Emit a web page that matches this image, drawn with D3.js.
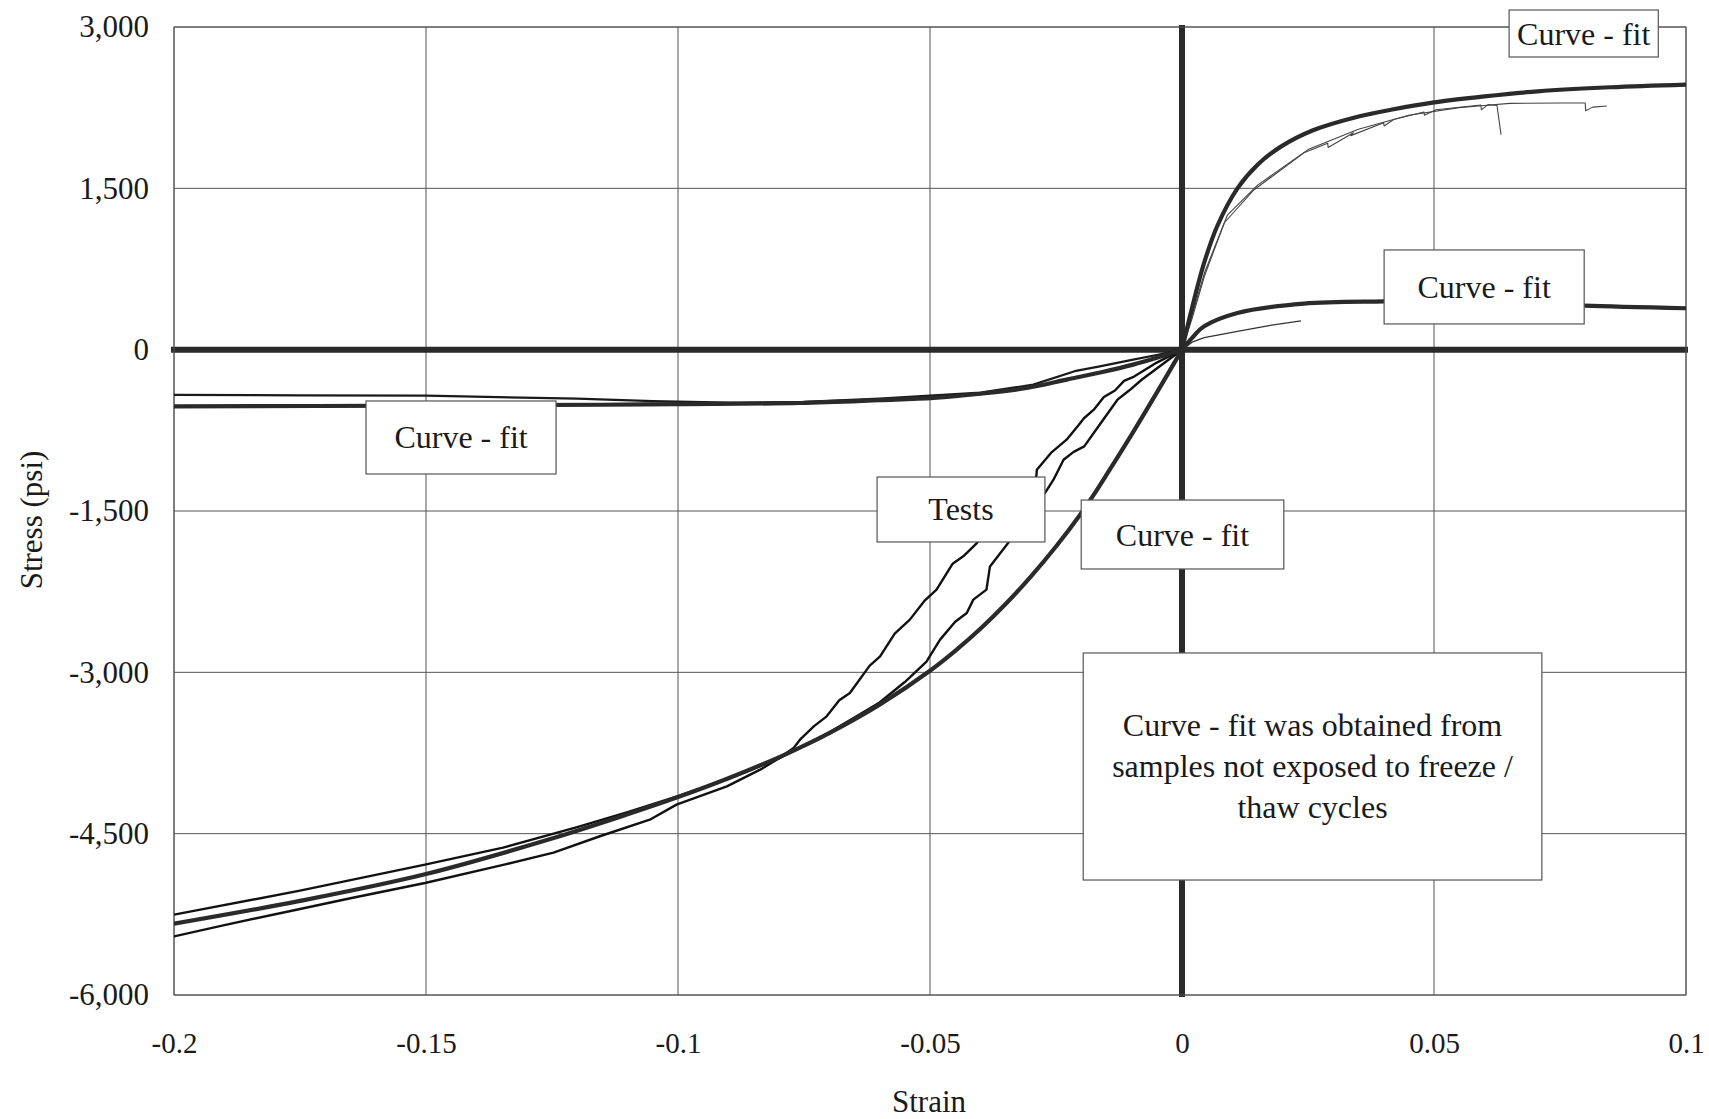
<!DOCTYPE html>
<html><head><meta charset="utf-8">
<script src="https://cdn.jsdelivr.net/npm/d3@7"></script>
<style>
body{margin:0;background:#fff}
text{font-family:"Liberation Serif","Times New Roman",serif;fill:#1a1a1a}
</style>
</head><body>
<svg id="chart" width="1709" height="1119"></svg>
<script>
// ---- data ----
const xTicks = [-0.2, -0.15, -0.1, -0.05, 0, 0.05, 0.1];
const xTickLabels = ["-0.2", "-0.15", "-0.1", "-0.05", "0", "0.05", "0.1"];
const yTicks = [-6000, -4500, -3000, -1500, 0, 1500, 3000];
const yTickLabels = ["-6,000", "-4,500", "-3,000", "-1,500", "0", "1,500", "3,000"];

// Curve-fit A (upper / steep), compression and tension branches
const fitAcompStrain = [0, -0.005, -0.01, -0.015, -0.0176, -0.02, -0.025, -0.03, -0.035, -0.04, -0.045, -0.05, -0.06, -0.07, -0.0758, -0.08, -0.09, -0.1, -0.11, -0.125, -0.15, -0.175, -0.2];
const fitAcompStress = [0, -400, -790, -1165, -1355, -1520, -1830, -2110, -2365, -2595, -2800, -2985, -3300, -3565, -3700, -3790, -3985, -4160, -4320, -4545, -4875, -5125, -5337];
const fitAtensStrain = [0, 0.002, 0.0044, 0.007, 0.011, 0.015, 0.0197, 0.026, 0.0341, 0.042, 0.05, 0.06, 0.0706, 0.085, 0.1];
const fitAtensStress = [0, 390, 809, 1150, 1500, 1720, 1890, 2040, 2157, 2235, 2299, 2355, 2402, 2440, 2465];

// Curve-fit B (lower / flat)
const fitBcompStrain = [0, -0.005, -0.0097, -0.016, -0.0229, -0.0308, -0.04, -0.0493, -0.06, -0.0758, -0.1, -0.115, -0.15, -0.2];
const fitBcompStress = [0, -75, -139, -210, -279, -356, -410, -449, -470, -496, -506, -512, -520, -528];
const fitBtensStrain = [0, 0.002, 0.0044, 0.011, 0.0242, 0.04, 0.05, 0.06, 0.07, 0.0798, 0.1];
const fitBtensStress = [0, 110, 217, 341, 428, 449, 455, 450, 432, 409, 385];

// Tests, compression (steep)
const test1Strain = [0, -0.005, -0.0095, -0.0115, -0.0133, -0.0155, -0.0175, -0.0195, -0.0205, -0.0229, -0.026, -0.0288, -0.0289, -0.033, -0.037, -0.0407, -0.0434, -0.0455, -0.0487, -0.051, -0.054, -0.057, -0.0599, -0.062, -0.0659, -0.068, -0.0705, -0.073, -0.0758, -0.077, -0.08, -0.0837, -0.0903, -0.1003, -0.1056, -0.1155, -0.1247, -0.1347, -0.1502, -0.165, -0.175, -0.19, -0.2];
const test1Stress = [0, -120, -250, -290, -380, -440, -558, -640, -700, -837, -960, -1116, -1180, -1400, -1600, -1798, -1921, -1990, -2231, -2330, -2510, -2640, -2851, -2940, -3192, -3260, -3409, -3500, -3626, -3700, -3800, -3905, -4060, -4230, -4370, -4524, -4677, -4790, -4959, -5100, -5200, -5350, -5455];
const test2Strain = [0, -0.004, -0.008, -0.0105, -0.0128, -0.0161, -0.0194, -0.0215, -0.0235, -0.0255, -0.0272, -0.031, -0.0345, -0.0381, -0.0388, -0.0414, -0.0427, -0.045, -0.048, -0.0507, -0.055, -0.06, -0.07, -0.08, -0.09, -0.1, -0.11, -0.12, -0.1347, -0.1502, -0.175, -0.2];
const test2Stress = [0, -140, -280, -380, -465, -682, -899, -950, -1023, -1209, -1333, -1560, -1798, -2015, -2231, -2324, -2448, -2530, -2696, -2900, -3090, -3280, -3560, -3800, -3990, -4150, -4300, -4440, -4630, -4788, -5030, -5253];

// Test near curve-fit B, compression
const test3Strain = [0, -0.005, -0.0097, -0.0163, -0.0213, -0.0295, -0.04, -0.06, -0.075, -0.09, -0.105, -0.12, -0.15, -0.175, -0.2];
const test3Stress = [0, -50, -93, -155, -200, -325, -400, -455, -485, -492, -478, -455, -428, -425, -420];

// Tests, tension
const test4Strain = [0, 0.002, 0.0045, 0.0084, 0.0143, 0.0242, 0.0289, 0.029, 0.034, 0.0335, 0.04, 0.0401, 0.042, 0.048, 0.0481, 0.0504, 0.0593, 0.0594, 0.0607, 0.0625, 0.0633];
const test4Stress = [0, 290, 690, 1180, 1487, 1830, 1920, 1880, 2017, 1990, 2110, 2080, 2140, 2210, 2180, 2231, 2275, 2230, 2278, 2270, 2000];
const test5Strain = [0, 0.002, 0.0045, 0.009, 0.015, 0.025, 0.035, 0.045, 0.055, 0.06, 0.065, 0.075, 0.08, 0.0801, 0.0815, 0.0843];
const test5Stress = [0, 320, 720, 1250, 1530, 1860, 2050, 2180, 2250, 2270, 2290, 2293, 2293, 2222, 2255, 2265];
const test6Strain = [0, 0.002, 0.0044, 0.011, 0.017, 0.0236];
const test6Stress = [0, 70, 112, 170, 222, 268];

// Annotation labels
const boxTexts = [["Curve - fit"], ["Curve - fit"], ["Curve - fit"], ["Tests"], ["Curve - fit"],
  ["Curve - fit was obtained from", "samples not exposed to freeze /", "thaw cycles"]];

// ---- layout ----
const svg = d3.select("#chart");
const x = d3.scaleLinear().domain([-0.2, 0.1]).range([174, 1686]);
const y = d3.scaleLinear().domain([-6000, 3000]).range([995, 27]);
const SERIF = '"Liberation Serif","Times New Roman",serif';

svg.append("rect").attr("width", 1709).attr("height", 1119).attr("fill", "#fff");

// grid
const grid = svg.append("g");
grid.selectAll("line.v").data(xTicks).join("line").attr("class", "v")
  .attr("x1", d => x(d)).attr("x2", d => x(d)).attr("y1", y(3000)).attr("y2", y(-6000))
  .attr("stroke", "#555").attr("stroke-width", 1);
grid.selectAll("line.h").data(yTicks).join("line").attr("class", "h")
  .attr("x1", x(-0.2)).attr("x2", x(0.1)).attr("y1", d => y(d)).attr("y2", d => y(d))
  .attr("stroke", "#555").attr("stroke-width", 1);

// axes (labels only)
const xAxis = d3.axisBottom(x).tickValues(xTicks).tickSize(0).tickPadding(37)
  .tickFormat((d, i) => xTickLabels[i]);
const gx = svg.append("g").attr("transform", `translate(0,${y(-6000)})`).call(xAxis);
gx.select(".domain").remove();
gx.selectAll("text").style("font-size", "29px").attr("fill", "#1a1a1a").style("font-family", SERIF);

const yAxis = d3.axisLeft(y).tickValues(yTicks).tickSize(0).tickPadding(25)
  .tickFormat((d, i) => yTickLabels[i]);
const gy = svg.append("g").attr("transform", `translate(${x(-0.2)},0)`).call(yAxis);
gy.select(".domain").remove();
gy.selectAll("text").style("font-size", "31px").attr("fill", "#1a1a1a").style("font-family", SERIF);

// axis titles
svg.append("text").attr("x", 929).attr("y", 1101).attr("text-anchor", "middle")
  .attr("dominant-baseline", "central").style("font-size", "31px").text("Strain");
svg.append("text").attr("transform", "translate(31,520) rotate(-90)").attr("text-anchor", "middle")
  .attr("dominant-baseline", "central").style("font-size", "31px").text("Stress (psi)");

// zero lines
svg.append("line").attr("x1", x(-0.2) - 3).attr("x2", x(0.1) + 2).attr("y1", y(0)).attr("y2", y(0))
  .attr("stroke", "#2a2a2a").attr("stroke-width", 6);
svg.append("line").attr("x1", x(0)).attr("x2", x(0)).attr("y1", y(3000) - 2).attr("y2", y(-6000) + 2)
  .attr("stroke", "#2a2a2a").attr("stroke-width", 6);

// border
svg.append("rect").attr("x", x(-0.2)).attr("y", y(3000))
  .attr("width", x(0.1) - x(-0.2)).attr("height", y(-6000) - y(3000))
  .attr("fill", "none").attr("stroke", "#555").attr("stroke-width", 1);

// clip
svg.append("clipPath").attr("id", "clip").append("rect")
  .attr("x", x(-0.2)).attr("y", y(3000)).attr("width", x(0.1) - x(-0.2)).attr("height", y(-6000) - y(3000));
const plot = svg.append("g").attr("clip-path", "url(#clip)");

function series(sx, sy) { return sx.map((v, i) => [v, sy[i]]); }
const smooth = d3.line().x(d => x(d[0])).y(d => y(d[1])).curve(d3.curveCatmullRom.alpha(0.5));
const jag = d3.line().x(d => x(d[0])).y(d => y(d[1])).curve(d3.curveLinear);

// tests
const tests = [
  {d: series(test3Strain, test3Stress), w: 2.2, c: "#1a1a1a"},
  {d: series(test1Strain, test1Stress), w: 2.4, c: "#111"},
  {d: series(test2Strain, test2Stress), w: 2.4, c: "#111"},
  {d: series(test4Strain, test4Stress), w: 1.1, c: "#444"},
  {d: series(test5Strain, test5Stress), w: 1.1, c: "#444"},
  {d: series(test6Strain, test6Stress), w: 1.3, c: "#333"}
];
plot.selectAll("path.test").data(tests).join("path").attr("class", "test")
  .attr("d", d => jag(d.d)).attr("fill", "none").attr("stroke", d => d.c)
  .attr("stroke-width", d => d.w).attr("stroke-linejoin", "round");

// fits
const fits = [
  series(fitAcompStrain, fitAcompStress),
  series(fitAtensStrain, fitAtensStress),
  series(fitBcompStrain, fitBcompStress),
  series(fitBtensStrain, fitBtensStress)
];
plot.selectAll("path.fit").data(fits).join("path").attr("class", "fit")
  .attr("d", d => smooth(d)).attr("fill", "none").attr("stroke", "#2a2a2a")
  .attr("stroke-width", 4.2).attr("stroke-linecap", "round");

// annotation boxes (positioned in data units)
const boxes = [
  {x0: 0.0649, x1: 0.0945, y0: 3158, y1: 2721},
  {x0: 0.0401, x1: 0.0798, y0: 927, y1: 239},
  {x0: -0.1619, x1: -0.1242, y0: -477, y1: -1156},
  {x0: -0.0605, x1: -0.0272, y0: -1184, y1: -1788},
  {x0: -0.0200, x1: 0.0202, y0: -1398, y1: -2039},
  {x0: -0.0196, x1: 0.0714, y0: -2820, y1: -4931}
];
const bg = svg.append("g");
boxes.forEach((b, i) => {
  const px0 = x(b.x0), px1 = x(b.x1), py0 = y(b.y0), py1 = y(b.y1);
  bg.append("rect").attr("x", px0).attr("y", py0).attr("width", px1 - px0).attr("height", py1 - py0)
    .attr("fill", "#fff").attr("stroke", "#555").attr("stroke-width", 1.2);
  const lines = boxTexts[i];
  const lh = 41;
  const cx = (px0 + px1) / 2, cy = (py0 + py1) / 2;
  lines.forEach((t, j) => {
    bg.append("text").attr("x", cx).attr("y", cy + (j - (lines.length - 1) / 2) * lh)
      .attr("text-anchor", "middle").attr("dominant-baseline", "central")
      .style("font-size", "32px").text(t);
  });
});
</script>
</body></html>
